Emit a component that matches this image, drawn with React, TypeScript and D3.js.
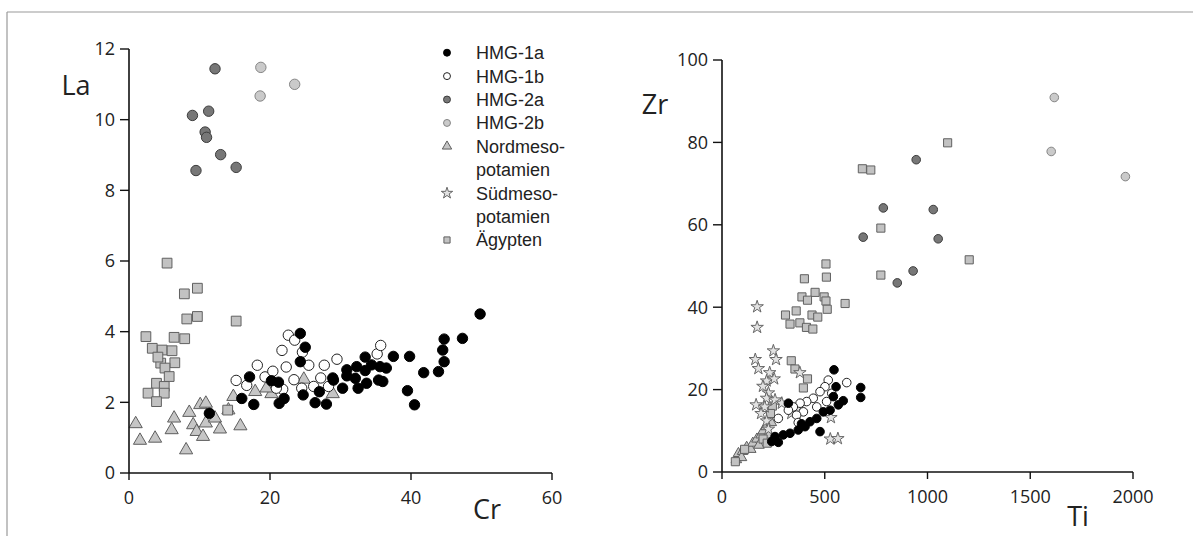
import React from 'react';
import * as d3 from 'd3';

// --- data: left panel (Cr, La) ---
const crLa_hmg1a = [
  [11.4, 1.69], [16.0, 2.11], [17.1, 2.72], [17.7, 1.94], [24.3, 3.95], [25.0, 3.56], [24.3, 3.15],
  [20.2, 2.61], [21.2, 2.57], [21.3, 1.97], [22.0, 2.11], [24.7, 2.21], [26.4, 1.99], [28.0, 1.95],
  [29.0, 2.63], [30.3, 2.4], [30.9, 2.92], [32.3, 3.01], [33.5, 3.28], [32.1, 2.68], [32.5, 2.4],
  [33.7, 2.54], [34.4, 3.06], [35.6, 3.01], [36.5, 2.97], [35.4, 2.63], [36.0, 2.59], [37.5, 3.3],
  [39.8, 3.3], [41.8, 2.84], [39.5, 2.33], [40.5, 1.93], [43.9, 2.87], [44.7, 3.15], [44.5, 3.48],
  [44.7, 3.79], [47.3, 3.81], [49.8, 4.5], [30.9, 2.75], [33.5, 2.9], [28.9, 2.69], [27.0, 2.3],
];
const crLa_hmg1b = [
  [15.2, 2.62], [18.2, 3.05], [16.7, 2.48], [19.3, 2.72], [20.4, 2.88], [21.7, 3.47], [22.3, 3.0],
  [22.6, 3.9], [23.5, 3.76], [21.8, 2.37], [23.4, 2.64], [24.5, 2.4], [24.6, 3.42], [25.5, 3.05],
  [26.2, 2.45], [27.2, 2.69], [27.7, 3.05], [28.3, 2.45], [29.5, 3.22], [35.2, 3.37], [35.7, 3.61],
  [20.9, 2.4],
];
const crLa_hmg2a = [
  [12.2, 11.44], [9.0, 10.12], [11.3, 10.24], [10.8, 9.65], [11.0, 9.5], [13.0, 9.01], [9.5, 8.56], [15.2, 8.65],
];
const crLa_hmg2b = [[18.7, 11.48], [18.6, 10.67], [23.5, 11.0]];
const crLa_nord = [
  [0.95, 1.39], [1.56, 0.92], [3.7, 0.98], [6.4, 1.55], [6.05, 1.22], [8.55, 1.71], [9.1, 1.36],
  [10.1, 1.93], [10.9, 1.97], [9.6, 1.17], [10.5, 1.03], [10.9, 1.41], [12.2, 1.55], [12.9, 1.24],
  [8.1, 0.65], [14.8, 2.16], [14.1, 1.78], [15.8, 1.33], [17.9, 2.3], [20.2, 2.24], [19.5, 2.4],
  [24.8, 2.65], [28.9, 2.24],
];
const crLa_sued: number[][] = [];
const crLa_aeg = [
  [5.4, 5.94], [7.85, 5.07], [9.7, 5.23], [8.2, 4.36], [9.7, 4.43], [15.2, 4.3], [2.4, 3.86],
  [6.4, 3.84], [7.9, 3.8], [3.3, 3.53], [4.7, 3.48], [6.1, 3.46], [4.5, 3.11], [6.5, 3.12],
  [4.1, 3.28], [5.1, 2.97], [5.7, 2.73], [3.9, 2.54], [5.0, 2.45], [2.7, 2.26], [5.0, 2.26],
  [3.9, 2.02], [14.0, 1.78],
];

// --- data: right panel (Ti, Zr) ---
const tiZr_hmg1a = [
  [545, 24.8], [555, 20.7], [675, 20.5], [675, 18.1], [590, 17.3], [542, 18.3], [566, 16.3],
  [526, 15.0], [493, 14.6], [461, 13.0], [428, 12.2], [404, 11.0], [371, 10.2], [331, 9.4],
  [298, 9.0], [258, 8.6], [274, 7.2], [242, 7.4], [477, 9.8], [323, 16.7], [387, 11.7],
];
const tiZr_hmg1b = [
  [607, 21.7], [517, 22.3], [501, 20.7], [534, 19.1], [477, 19.5], [444, 17.9], [412, 17.1],
  [380, 16.7], [347, 15.8], [396, 14.6], [363, 13.8], [371, 12.0], [323, 15.0], [274, 13.0],
  [509, 17.1], [461, 15.8],
];
const tiZr_hmg2a = [[945, 75.8], [785, 64.1], [1028, 63.7], [687, 57.0], [1052, 56.6], [930, 48.8], [853, 45.9]];
const tiZr_hmg2b = [[1617, 90.9], [1602, 77.8], [1963, 71.7]];
const tiZr_nord = [
  [70, 3], [80, 4.5], [100, 5], [120, 6], [140, 5.5], [150, 7], [170, 8], [190, 9], [200, 10],
  [215, 11], [230, 9], [240, 12], [260, 8], [180, 6.5], [95, 3.5],
];
const tiZr_sued = [
  [171, 40.1], [171, 35.1], [250, 29.4], [162, 27.3], [263, 27.3], [177, 25.1], [232, 24.1],
  [379, 24.1], [217, 22.1], [254, 22.6], [199, 20.8], [226, 19.2], [217, 17.9], [166, 16.3],
  [208, 15.8], [258, 17.5], [291, 16.7], [190, 14.2], [217, 12.4], [226, 10.4], [530, 13.2],
  [527, 8.0], [564, 8.1], [337, 14.2], [365, 15.4],
];
const tiZr_aeg = [
  [683, 73.6], [724, 73.3], [1098, 79.9], [773, 59.2], [773, 47.8], [1203, 51.5],
  [506, 50.5], [401, 46.9], [508, 47.3], [453, 43.6], [389, 42.5], [416, 41.7], [497, 42.5],
  [506, 41.5], [512, 39.5], [599, 40.9], [361, 39.1], [309, 38.1], [438, 38.1], [466, 37.6],
  [331, 35.9], [379, 36.2], [411, 35.1], [442, 34.7], [337, 27.0], [355, 25.0], [416, 22.6],
  [396, 20.4], [245, 16.0], [236, 14.2], [65, 2.5], [110, 5.5], [200, 8], [220, 7],
];

const legendLabels = ['HMG-1a', 'HMG-1b', 'HMG-2a', 'HMG-2b', 'Nordmeso-', 'potamien', 'Südmeso-', 'potamien', 'Ägypten'];
const legendKeys = ['1a', '1b', '2a', '2b', 'nord', null, 'sued', null, 'aeg'];

const styles: Record<string, any> = {
  '1a': { type: d3.symbolCircle, fill: '#000', stroke: '#000' },
  '1b': { type: d3.symbolCircle, fill: '#fff', stroke: '#222' },
  '2a': { type: d3.symbolCircle, fill: '#777', stroke: '#3c3c3c' },
  '2b': { type: d3.symbolCircle, fill: '#cacaca', stroke: '#858585' },
  nord: { type: d3.symbolTriangle, fill: '#c6c6c6', stroke: '#5e5e5e' },
  sued: { type: d3.symbolStar, fill: '#e2e2e2', stroke: '#666' },
  aeg: { type: d3.symbolSquare, fill: '#c2c2c2', stroke: '#606060' },
};

const FONT = '"Open Sans", "Liberation Sans", sans-serif';

const Panel = ({ x0, x1, y0, y1, xMax, yMax, xStep, yStep, xLabel, yLabel, xLabelPos, yLabelPos, series, sizes }) => {
  const x = d3.scaleLinear().domain([0, xMax]).range([x0, x1]);
  const y = d3.scaleLinear().domain([0, yMax]).range([y0, y1]);
  const xt = d3.range(0, xMax + 1, xStep);
  const yt = d3.range(0, yMax + 1, yStep);
  return (
    <g>
      {series.map(([key, pts]) => {
        const s = styles[key];
        const path = d3.symbol().type(s.type).size(sizes[key])();
        return pts.map((p, i) => (
          <path key={key + i} d={path} transform={`translate(${x(p[0])},${y(p[1])})`}
            fill={s.fill} stroke={s.stroke} strokeWidth={1} />
        ));
      })}
      <line x1={x0} x2={x0} y1={y0} y2={y1} stroke="#111" strokeWidth={1.6} />
      <line x1={x0} x2={x1} y1={y0} y2={y0} stroke="#111" strokeWidth={1.6} />
      {yt.map((t) => (
        <g key={'y' + t}>
          <line x1={x0 - 9} x2={x0} y1={y(t)} y2={y(t)} stroke="#111" strokeWidth={1.4} />
          <text x={x0 - 14} y={y(t)} dy="0.36em" textAnchor="end" fontSize={18} fontFamily={FONT} fill="#222">{t}</text>
        </g>
      ))}
      {xt.map((t) => (
        <g key={'x' + t}>
          <line x1={x(t)} x2={x(t)} y1={y0} y2={y0 + 7} stroke="#111" strokeWidth={1.4} />
          <text x={x(t)} y={y0 + 31} textAnchor="middle" fontSize={18} fontFamily={FONT} fill="#222">{t}</text>
        </g>
      ))}
      <text x={xLabelPos[0]} y={xLabelPos[1]} textAnchor="middle" fontSize={27} fontFamily={FONT} fill="#222">{xLabel}</text>
      <text x={yLabelPos[0]} y={yLabelPos[1]} textAnchor="middle" fontSize={27} fontFamily={FONT} fill="#222">{yLabel}</text>
    </g>
  );
};

export default function App() {
  const leftSeries = [
    ['nord', crLa_nord], ['aeg', crLa_aeg], ['sued', crLa_sued], ['2a', crLa_hmg2a],
    ['2b', crLa_hmg2b], ['1b', crLa_hmg1b], ['1a', crLa_hmg1a],
  ];
  const rightSeries = [
    ['nord', tiZr_nord], ['aeg', tiZr_aeg], ['sued', tiZr_sued], ['2a', tiZr_hmg2a],
    ['2b', tiZr_hmg2b], ['1b', tiZr_hmg1b], ['1a', tiZr_hmg1a],
  ];
  const leftSizes = { '1a': 85, '1b': 85, '2a': 85, '2b': 85, nord: 75, sued: 60, aeg: 95 };
  const rightSizes = { '1a': 58, '1b': 58, '2a': 58, '2b': 58, nord: 48, sued: 48, aeg: 66 };
  const legY = d3.scaleLinear().domain([0, 8]).range([52.7, 240]);
  return (
    <svg width={1193} height={536} style={{ position: 'absolute', left: 0, top: 0, background: '#fff' }}>
      <line x1={7} x2={1193} y1={12} y2={12} stroke="#999" strokeWidth={1.2} />
      <line x1={7} x2={7} y1={12} y2={536} stroke="#999" strokeWidth={1.2} />
      <Panel x0={129} x1={552} y0={473} y1={49} xMax={60} yMax={12} xStep={20} yStep={2}
        xLabel="Cr" yLabel="La" xLabelPos={[487, 519]} yLabelPos={[76, 95]} series={leftSeries} sizes={leftSizes} />
      <Panel x0={722} x1={1133} y0={472} y1={60} xMax={2000} yMax={100} xStep={500} yStep={20}
        xLabel="Ti" yLabel="Zr" xLabelPos={[1078, 526]} yLabelPos={[655, 114]} series={rightSeries} sizes={rightSizes} />
      {legendLabels.map((lab, i) => {
        const k = legendKeys[i];
        const s = k ? styles[k] : null;
        return (
          <g key={'lg' + i}>
            {s && (
              <path d={d3.symbol().type(s.type).size(k === 'sued' ? 40 : 38)()}
                transform={`translate(447,${legY(i)})`} fill={s.fill} stroke={s.stroke} strokeWidth={1} />
            )}
            <text x={476} y={legY(i)} dy="0.36em" fontSize={18} fontFamily='"Liberation Sans", Arial, sans-serif' fill="#222">{lab}</text>
          </g>
        );
      })}
    </svg>
  );
}
